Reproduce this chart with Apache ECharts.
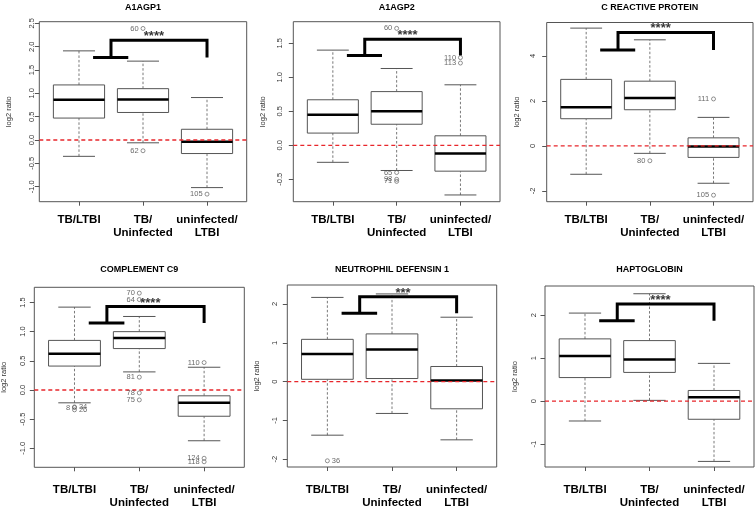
<!DOCTYPE html>
<html>
<head>
<meta charset="utf-8">
<script src="https://cdn.jsdelivr.net/npm/echarts@6/dist/echarts.min.js"></script>
<style>
html, body { margin: 0; padding: 0; background: #fff; }
#main { width: 755px; height: 507px; }
</style>
</head>
<body>
<div id="main"></div>
<script>
const categories = ['TB/LTBI', 'TB/\nUninfected', 'uninfected/\nLTBI'];
const panelTitles = ['A1AGP1', 'A1AGP2', 'C REACTIVE PROTEIN', 'COMPLEMENT C9', 'NEUTROPHIL DEFENSIN 1', 'HAPTOGLOBIN'];

// [min, Q1, median, Q3, max] for each group
const a1agp1Boxes = [[-0.35, 0.47, 0.86, 1.18, 1.91], [-0.06, 0.59, 0.87, 1.10, 1.69], [-1.02, -0.29, -0.04, 0.23, 0.91]];
const a1agp2Boxes = [[-0.25, 0.18, 0.45, 0.67, 1.40], [-0.37, 0.31, 0.50, 0.79, 1.13], [-0.73, -0.38, -0.12, 0.14, 0.89]];
const crpBoxes = [[-1.26, 1.21, 1.72, 2.96, 5.24], [-0.33, 1.61, 2.13, 2.88, 4.72], [-1.66, -0.51, -0.03, 0.36, 1.27]];
const c9Boxes = [[-0.22, 0.41, 0.62, 0.85, 1.42], [0.31, 0.71, 0.89, 1.00, 1.26], [-0.87, -0.45, -0.22, -0.10, 0.39]];
const defensinBoxes = [[-1.38, 0.06, 0.71, 1.09, 2.17], [-0.82, 0.08, 0.83, 1.23, 2.26], [-1.50, -0.70, 0.03, 0.39, 1.66]];
const haptoBoxes = [[-0.46, 0.55, 1.05, 1.45, 2.05], [0.02, 0.67, 0.97, 1.41, 2.50], [-1.40, -0.42, 0.09, 0.25, 0.88]];

// outliers: [group, value, sample id, label side]
const a1agp1Outliers = [[2, 2.39, '60', 'left'], [2, -0.23, '62', 'left'], [3, -1.16, '105', 'left']];
const a1agp2Outliers = [[2, 1.72, '60', 'left'], [2, -0.40, '65', 'left'], [2, -0.50, '98', 'left'], [2, -0.53, '71', 'left'], [3, 1.29, '110', 'left'], [3, 1.21, '113', 'left']];
const crpOutliers = [[2, -0.66, '80', 'left'], [3, 2.09, '111', 'left'], [3, -2.19, '105', 'left']];
const c9Outliers = [[1, -0.30, '8', 'left'], [1, -0.29, '34', 'right'], [1, -0.34, '26', 'right'], [2, 1.66, '70', 'left'], [2, 1.55, '64', 'left'], [2, 0.22, '81', 'left'], [2, -0.05, '78', 'left'], [2, -0.17, '75', 'left'], [3, 0.47, '110', 'left'], [3, -1.17, '124', 'left'], [3, -1.23, '118', 'left']];
const defensinOutliers = [[1, -2.04, '36', 'right']];
const haptoOutliers = [];

const a1agp1Ticks = [-1.0, -0.5, 0.0, 0.5, 1.0, 1.5, 2.0, 2.5];
const a1agp2Ticks = [-0.5, 0.0, 0.5, 1.0, 1.5];
const crpTicks = [-2, 0, 2, 4];
const c9Ticks = [-1.0, -0.5, 0.0, 0.5, 1.0, 1.5];
const defensinTicks = [-2, -1, 0, 1, 2];
const haptoTicks = [-1, 0, 1, 2];
const tickDecimals = [1, 1, 0, 1, 0, 0];

// significance bracket (low end, top) and stars
const bracketLow = [1.77, 1.32, 4.27, 1.15, 1.76, 1.87];
const bracketHigh = [2.14, 1.56, 5.04, 1.43, 2.19, 2.26];
const starY = [2.29, 1.66, 5.34, 1.54, 2.36, 2.41];
const starText = ['****', '****', '****', '****', '***', '****'];

const boxes = [a1agp1Boxes, a1agp2Boxes, crpBoxes, c9Boxes, defensinBoxes, haptoBoxes];
const outliers = [a1agp1Outliers, a1agp2Outliers, crpOutliers, c9Outliers, defensinOutliers, haptoOutliers];
const ticks = [a1agp1Ticks, a1agp2Ticks, crpTicks, c9Ticks, defensinTicks, haptoTicks];

// layout: plot box [left, top, width, height], y extent, label margins
const panelBoxes = [
    [39.3, 21.7, 207.4, 180], [293.3, 21.7, 206.7, 180], [546.7, 22.5, 206.3, 179.2],
    [34.3, 287.3, 210, 180], [287.3, 285, 209.4, 182], [545, 286, 209, 181]
];
const yRanges = [[-1.322, 2.535], [-0.829, 1.818], [-2.48, 5.49], [-1.325, 1.76], [-2.20, 2.49], [-1.53, 2.68]];
const xRange = [0.38, 3.62];
const yLabelMargins = [3.5, 9, 9.5, 7, 8, 7.5];
const xLabelMargins = [11.5, 11.5, 11.5, 16, 16, 16];

const FONT = 'Liberation Sans, Arial, Helvetica, sans-serif';
const EDGE = '#555';

function renderBox (params, api) {
    const x = api.value(0);
    const px = api.coord([x, api.value(3)])[0];
    const ys = [1, 2, 3, 4, 5].map((d) => api.coord([x, api.value(d)])[1]);
    const half = api.size([0.4, 0])[0];
    const cap = api.size([0.25, 0])[0];
    const dash = { stroke: EDGE, lineWidth: 0.8, lineDash: [2.5, 2] };
    const solid = { stroke: EDGE, lineWidth: 1 };
    return {
        type: 'group',
        children: [
            { type: 'line', shape: { x1: px, y1: ys[0], x2: px, y2: ys[1] }, style: dash },
            { type: 'line', shape: { x1: px, y1: ys[3], x2: px, y2: ys[4] }, style: dash },
            { type: 'line', shape: { x1: px - cap, y1: ys[0], x2: px + cap, y2: ys[0] }, style: solid },
            { type: 'line', shape: { x1: px - cap, y1: ys[4], x2: px + cap, y2: ys[4] }, style: solid },
            { type: 'rect', shape: { x: px - half, y: ys[3], width: half * 2, height: ys[1] - ys[3] }, style: { fill: '#fff', stroke: EDGE, lineWidth: 1 } },
            { type: 'line', shape: { x1: px - half, y1: ys[2], x2: px + half, y2: ys[2] }, style: { stroke: '#000', lineWidth: 2.5 } }
        ]
    };
}

const grid = [];
const xAxis = [];
const yAxis = [];
const series = [];
const graphic = [];

panelTitles.forEach((title, i) => {
    const [left, top, width, height] = panelBoxes[i];
    const dec = tickDecimals[i];

    grid.push({
        left: left, top: top, width: width, height: height,
        show: true, borderColor: EDGE, borderWidth: 1, backgroundColor: 'transparent',
        containLabel: false, outerBoundsMode: 'none'
    });

    xAxis.push({
        type: 'value', gridIndex: i, min: xRange[0], max: xRange[1], position: 'bottom',
        axisLine: { show: false, onZero: false },
        splitLine: { show: false },
        axisTick: { show: true, customValues: [1, 2, 3], length: 4, lineStyle: { color: EDGE } },
        axisLabel: {
            customValues: [1, 2, 3],
            formatter: (v) => categories[Math.round(v) - 1],
            fontFamily: FONT, fontSize: 11.5, fontWeight: 'bold', lineHeight: 13,
            color: '#000', margin: xLabelMargins[i], hideOverlap: false
        }
    });

    yAxis.push({
        type: 'value', gridIndex: i, min: yRanges[i][0], max: yRanges[i][1], position: 'left',
        name: 'log2 ratio', nameLocation: 'middle', nameGap: 26, nameRotate: 90,
        nameTextStyle: { fontFamily: FONT, fontSize: 7.5, color: '#333' },
        axisLine: { show: false, onZero: false },
        splitLine: { show: false },
        axisTick: { show: true, customValues: ticks[i], length: 4.5, lineStyle: { color: EDGE } },
        axisLabel: {
            customValues: ticks[i], rotate: 90,
            formatter: (v) => v.toFixed(dec),
            fontFamily: FONT, fontSize: 7.5, color: '#333',
            margin: yLabelMargins[i], hideOverlap: false
        }
    });

    series.push({
        type: 'custom', xAxisIndex: i, yAxisIndex: i, z: 2,
        renderItem: renderBox,
        encode: { x: 0, y: [1, 2, 3, 4, 5] },
        data: boxes[i].map((b, k) => [k + 1].concat(b))
    });

    // reference line at log2 ratio = 0
    series.push({
        type: 'line', xAxisIndex: i, yAxisIndex: i, z: 5,
        symbol: 'none', showSymbol: false, silent: true,
        lineStyle: { color: '#e8262b', type: [4, 3], width: 1.3 },
        data: [[xRange[0], 0], [xRange[1], 0]]
    });

    series.push({
        type: 'line', xAxisIndex: i, yAxisIndex: i, z: 6,
        symbol: 'none', showSymbol: false,
        lineStyle: { color: '#000', width: 3, cap: 'butt', join: 'miter' },
        data: [[1.22, bracketLow[i]], [1.77, bracketLow[i]], [1.5, bracketLow[i]],
            [1.5, bracketHigh[i]], [3, bracketHigh[i]], [3, bracketLow[i]]]
    });

    series.push({
        type: 'scatter', xAxisIndex: i, yAxisIndex: i, z: 7,
        symbol: 'circle', symbolSize: 4,
        itemStyle: { color: 'rgba(0,0,0,0)', borderColor: EDGE, borderWidth: 0.8 },
        label: {
            show: true, distance: 2,
            fontFamily: FONT, fontSize: 7.5, color: '#444',
            formatter: (p) => p.data.id
        },
        data: outliers[i].map((o) => ({ value: [o[0], o[1]], id: o[2], label: { position: o[3] } }))
    });

    series.push({
        type: 'scatter', xAxisIndex: i, yAxisIndex: i, z: 8,
        symbolSize: 0,
        label: {
            show: true, position: 'inside', offset: [0, 3],
            fontFamily: FONT, fontSize: 13, fontWeight: 'bold', color: '#000',
            formatter: () => starText[i]
        },
        data: [[2.17, starY[i]]]
    });

    graphic.push({
        type: 'text',
        x: left + width / 2,
        y: i < 3 ? 7.5 : 270,
        style: {
            text: title, align: 'center', verticalAlign: 'middle',
            fontFamily: FONT, fontSize: 9, fontWeight: 'bold', fill: '#000'
        }
    });
});

const myChart = echarts.init(document.getElementById('main'), null, { renderer: 'canvas' });
myChart.setOption({
    animation: false,
    backgroundColor: '#fff',
    grid: grid,
    xAxis: xAxis,
    yAxis: yAxis,
    series: series,
    graphic: graphic
});
</script>
</body>
</html>
